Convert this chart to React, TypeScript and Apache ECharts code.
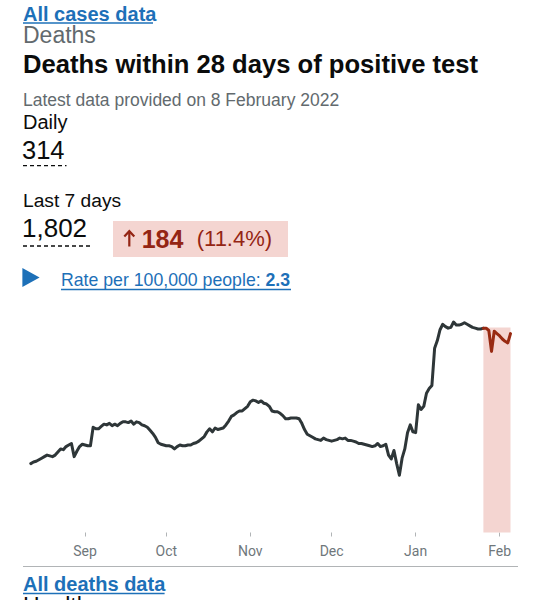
import React, { useEffect, useRef } from "react";
import * as echarts from "echarts";

// ---- data ----
const startDate = "2021-08-12";
// 7-day rolling average of deaths within 28 days of positive test, one value per day from startDate
const dailyValues = [
  89, 91, 92, 94, 96, 98, 100, 99, 98, 100,
  104, 108, 107, 111, 113, 115, 98, 105, 111, 114,
  113, 112, 112, 136, 134, 134, 137, 140, 139, 141,
  138, 140, 138, 141, 143, 143, 142, 144, 140, 143,
  142, 139, 138, 136, 132, 128, 123, 116, 114, 113,
  112, 112, 111, 108, 111, 113, 112, 112, 113, 113,
  115, 116, 118, 121, 124, 130, 134, 130, 135, 133,
  134, 135, 139, 144, 150, 152, 155, 157, 157, 160,
  163, 169, 171, 170, 168, 170, 167, 166, 163, 157,
  156, 156, 154, 151, 147, 147, 148, 148, 148, 147,
  141, 133, 127, 125, 123, 121, 120, 119, 122, 120,
  119, 118, 119, 120, 122, 121, 122, 119, 119, 118,
  117, 115, 115, 114, 113, 112, 111, 112, 115, 111,
  112, 114, 100, 95, 106, 89, 74, 96, 108, 129,
  139, 130, 129, 165, 159, 163, 180, 186, 190, 238,
  248, 262, 269, 266, 264, 265, 272, 268, 268, 269,
  271, 269, 267, 265, 264, 263, 263, 264, 264, 261,
  234, 260, 257, 254, 250, 247, 245, 257,
];
const incompleteFromIndex = 167; // 26 Jan 2022: start of the shaded (incomplete) period
const shadeTop = 265;
const monthTickDates = ["2021-09-01", "2021-10-01", "2021-11-01", "2021-12-01", "2022-01-01", "2022-02-01"];
const monthLabels = ["Sep", "Oct", "Nov", "Dec", "Jan", "Feb"];

const headline = {
  link: "All cases data",
  section: "Deaths",
  title: "Deaths within 28 days of positive test",
  latest: "Latest data provided on 8 February 2022",
  dailyLabel: "Daily",
  dailyValue: "314",
  weekLabel: "Last 7 days",
  weekValue: "1,802",
  change: "184",
  changePct: "(11.4%)",
  rateLabel: "Rate per 100,000 people: ",
  rateValue: "2.3",
  footerLink: "All deaths data",
  nextCard: "Healthcare",
};

const DAY = 86400000;

export default function App() {
  const ref = useRef<HTMLDivElement>(null);

  useEffect(() => {
    if (!ref.current) return;
    const chart = echarts.init(ref.current, undefined, { renderer: "svg" });

    const t0 = Date.parse(startDate + "T00:00:00Z");
    const points = dailyValues.map((v, i) => [t0 + i * DAY, v]);
    const completePts = points.slice(0, incompleteFromIndex + 1);
    const incompletePts = points.slice(incompleteFromIndex);
    const tickTimes = monthTickDates.map((d) => Date.parse(d + "T00:00:00Z"));
    const tEnd = t0 + (dailyValues.length - 1) * DAY;

    const BLUE = "#1d70b8";
    const BLACK = "#0b0c0c";
    const GREY = "#626a6e";
    const RED = "#942514";
    const FONT = "'Liberation Sans', Arial, sans-serif";

    const txt = (
      x: number,
      y: number,
      text: string,
      size: number,
      color: string,
      bold = false,
      lineHeight?: number
    ) => ({
      type: "text",
      x,
      y,
      silent: true,
      style: {
        text,
        fill: color,
        fontSize: size,
        fontWeight: bold ? "bold" : "normal",
        fontFamily: FONT,
        lineHeight: lineHeight ?? size,
        align: "left",
        verticalAlign: "middle",
      },
    });
    const hline = (x1: number, x2: number, y: number, color: string, w: number, dash?: number[]) => ({
      type: "line",
      silent: true,
      shape: { x1, y1: y, x2, y2: y },
      style: { stroke: color, lineWidth: w, lineDash: dash },
    });

    const option: any = {
      animation: false,
      grid: { left: 30.8, right: 29.5, top: 300.3, bottom: 67.5 },
      xAxis: {
        type: "value",
        min: t0,
        max: tEnd,
        offset: 2,
        axisLine: { show: false },
        splitLine: { show: false },
        axisTick: {
          show: true,
          length: 4,
          customValues: tickTimes,
          lineStyle: { color: "#b1b4b6", width: 1 },
        },
        axisLabel: {
          customValues: tickTimes,
          color: "#6f777b",
          fontFamily: "Roboto",
          fontSize: 14,
          margin: 9,
          formatter: (value: number) => {
            const idx = tickTimes.indexOf(Number(value));
            return idx >= 0 ? monthLabels[idx] : "";
          },
        },
      },
      yAxis: { type: "value", min: 0, max: 300, show: false },
      series: [
        {
          type: "line",
          data: [],
          z: 1,
          silent: true,
          markArea: {
            silent: true,
            itemStyle: { color: "#f4d5d1" },
            data: [[{ xAxis: t0 + incompleteFromIndex * DAY, yAxis: 0 }, { xAxis: tEnd, yAxis: shadeTop }]],
          },
        },
        {
          type: "line",
          data: completePts,
          symbol: "none",
          z: 3,
          lineStyle: { color: "#2e3638", width: 3, join: "round", cap: "round" },
        },
        {
          type: "line",
          data: incompletePts,
          symbol: "none",
          z: 3,
          lineStyle: { color: "#982a12", width: 3, join: "round", cap: "round" },
        },
      ],
      graphic: {
        elements: [
          txt(23, 13.5, headline.link, 20, BLUE, true, 18),
          hline(23, 153, 23, BLUE, 1.5),
          txt(23, 34.7, headline.section, 23, GREY, false, 20),
          txt(23, 64, headline.title, 25.6, BLACK, true),
          txt(23, 99.7, headline.latest, 17.5, GREY),
          txt(23, 122, headline.dailyLabel, 20, BLACK),
          txt(22, 149.7, headline.dailyValue, 25.5, BLACK),
          hline(23, 66.5, 165.7, BLACK, 1.3, [4, 3]),
          txt(23, 200, headline.weekLabel, 19.2, BLACK),
          txt(22, 227.8, headline.weekValue, 26, BLACK),
          hline(23, 90, 246, BLACK, 1.3, [4, 3]),
          {
            type: "rect",
            silent: true,
            shape: { x: 113, y: 221, width: 175, height: 36 },
            style: { fill: "#f4d5d1" },
          },
          {
            type: "line",
            silent: true,
            shape: { x1: 129.3, y1: 231.5, x2: 129.3, y2: 246.5 },
            style: { stroke: RED, lineWidth: 2.2 },
          },
          {
            type: "polyline",
            silent: true,
            shape: { points: [[124.3, 236.5], [129.3, 231.2], [134.3, 236.5]] },
            style: { stroke: RED, lineWidth: 2.2, fill: "none" },
          },
          txt(141.7, 238.5, headline.change, 25, RED, true),
          txt(196.7, 238.5, headline.changePct, 22, RED),
          {
            type: "polygon",
            silent: true,
            shape: { points: [[22.4, 268], [22.4, 287], [39.6, 277.5]] },
            style: { fill: BLUE },
          },
          {
            type: "text",
            x: 61,
            y: 279.7,
            silent: true,
            style: {
              text: "{a|" + headline.rateLabel + "}{b|" + headline.rateValue + "}",
              verticalAlign: "middle",
              align: "left",
              rich: {
                a: { fontSize: 17.7, lineHeight: 17.7, fontFamily: FONT, fill: BLUE, fontWeight: "normal" },
                b: { fontSize: 17.7, lineHeight: 17.7, fontFamily: FONT, fill: BLUE, fontWeight: "bold" },
              },
            },
          },
          hline(61, 291, 289.5, BLUE, 1.3),
          hline(23, 518, 566.5, "#b1b4b6", 1),
          txt(23, 584, headline.footerLink, 20, BLUE, true, 18),
          hline(23, 164.6, 593.5, BLUE, 1.5),
          txt(23, 606, headline.nextCard, 23, BLACK),
        ],
      },
    };

    chart.setOption(option);
    return () => chart.dispose();
  }, []);

  return (
    <div
      ref={ref}
      style={{ position: "fixed", left: 0, top: 0, width: 540, height: 600, background: "#ffffff" }}
    />
  );
}
